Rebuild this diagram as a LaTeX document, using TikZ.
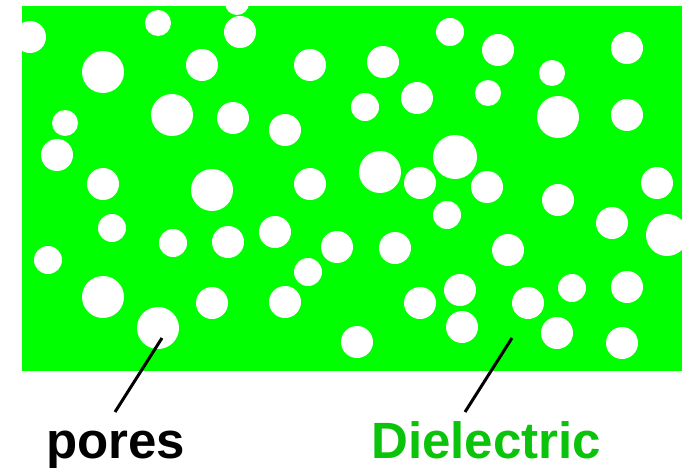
\documentclass[tikz,border=0pt]{standalone}
\usepackage{fontspec}
\setmainfont{Liberation Sans}
\definecolor{matrixgreen}{RGB}{0,255,0}
\definecolor{labelgreen}{RGB}{10,195,10}
\begin{document}
\begin{tikzpicture}[x=1pt,y=-1pt,
  pore/.style={fill=white},
  leader/.style={draw=black,line width=3pt},
  lbl/.style={inner sep=0pt,anchor=base west,font=\fontsize{51}{60}\selectfont\bfseries}]
\useasboundingbox (0,0) rectangle (682,468);
% dielectric matrix
\fill[matrixgreen] (22,6) rectangle (682,371);
% pores
\foreach \x/\y/\r in {
  30/37/16, 158/23/13, 240/32/16, 237/3/12, 103/72/21, 202/65/16,
  310/65/16, 383/62/16, 450/32/14, 498/50/16, 627/48/16, 552/73/13,
  488/93/13, 365/107/14, 417/98/16, 558/117/21, 627/115/16, 65/123/13,
  172/115/21, 233/118/16, 285/130/16, 57/155/16, 103/184/16, 212/190/21,
  310/184/16, 380/172/21, 420/183/16, 455/157/22, 487/187/16, 558/200/16,
  657/183/16, 447/215/14, 612/223/16, 667/235/21, 112/228/14, 173/243/14,
  228/242/16, 275/232/16, 337/247/16, 395/248/16, 508/250/16, 48/260/14,
  308/272/14, 103/297/21, 212/303/16, 285/302/16, 420/303/16, 460/290/16,
  572/288/14, 627/287/16, 528/303/16, 158/328/21, 462/327/16, 557/333/16,
  622/343/16, 357/342/16}
  \fill[pore] (\x,\y) circle[radius=\r];
% labels and leader lines
\node[lbl,text=black] (pores) at (46,458) {pores};
\node[lbl,text=labelgreen] (dielectric) at (371,458) {Dielectric};
\coordinate (poreTip) at (162,338);
\coordinate (poreEnd) at (115,412);
\coordinate (dielTip) at (512,338);
\coordinate (dielEnd) at (465,412);
\draw[leader] (poreTip) -- (poreEnd);
\draw[leader] (dielTip) -- (dielEnd);
\end{tikzpicture}
\end{document}
